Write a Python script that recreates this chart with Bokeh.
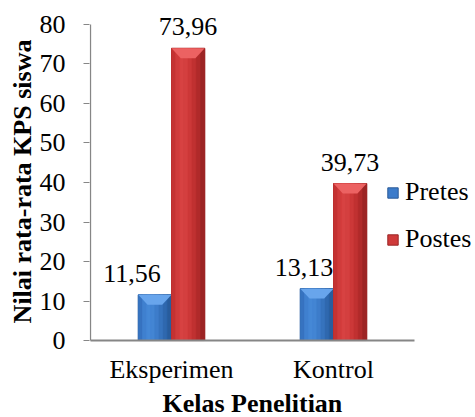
from bokeh.plotting import figure
from bokeh.models import Range1d, FixedTicker, Legend, LegendItem, ColumnDataSource, LabelSet, Title
from bokeh.core.properties import value
from bokeh.embed import file_html
from bokeh.resources import INLINE

# ---- data ----
categories = ["Eksperimen", "Kontrol"]
series_names = ["Pretes", "Postes"]
pretes = [11.56, 13.13]
postes = [73.96, 39.73]
y_ticks = [0, 10, 20, 30, 40, 50, 60, 70, 80]
y_title = "Nilai rata-rata KPS siswa"
x_title = "Kelas Penelitian"

# ---- style ----
FONT = "Liberation Serif, Times New Roman, DejaVu Serif, serif"
FS = "26px"
BAR_W = 0.41          # bar width (one category = 2 x-units)
BEVEL = 2.5           # bevel height in value units
N_STRIP = 8
AXIS_C = "#868686"
base_colors = ["#3d7ccb", "#cf3a3a"]
edge_colors = ["#2b5a98", "#9a2626"]
top_colors = ["#68a5ec", "#ec6262"]
strip_colors = [
    ["#3673c0", "#3f80cf", "#4588d6", "#4385d3", "#3d7cca", "#3673bd", "#2f68ae", "#285c9c"],
    ["#c43232", "#d03b3b", "#d74242", "#d43f3f", "#cc3838", "#c03131", "#b02a2a", "#9c2424"],
]
label_dx = [[-23, -13], [0, 0]]   # screen px nudges of the value labels

W, H = 475, 417
TOP = 14
BOTTOM = 68
LEFT = 89
PX_X = 81.0                 # px per x unit
PX_Y = 317.0 / 80.0         # px per y unit
Y0_PX = 341                 # pixel row of the value 0
p = figure(width=W, height=H, output_backend="svg", toolbar_location=None,
           x_range=Range1d(-1 / PX_X, (W - LEFT - 1) / PX_X),
           y_range=Range1d(-(H - BOTTOM - Y0_PX) / PX_Y, 80 + (24 - TOP) / PX_Y),
           min_border_left=LEFT, min_border_right=0, min_border_top=TOP, min_border_bottom=BOTTOM)
p.outline_line_color = None
p.grid.visible = False
p.background_fill_color = "white"
p.border_fill_color = "white"

series_vals = [pretes, postes]
offsets = [-BAR_W / 2, BAR_W / 2]
legend_items = []
for s, vals in enumerate(series_vals):
    xc = [2 * i + 1 + offsets[s] for i in range(len(categories))]
    src = ColumnDataSource(dict(x=xc, top=vals))
    base = p.vbar(x="x", top="top", width=BAR_W, bottom=0, source=src,
                  fill_color=base_colors[s], line_color=edge_colors[s], line_width=1)
    legend_items.append(LegendItem(label=series_names[s], renderers=[base]))
    sw = BAR_W / N_STRIP
    for j in range(N_STRIP):
        xs = [x - BAR_W / 2 + (j + 0.5) * sw for x in xc]
        p.vbar(x=xs, top=vals, width=sw, bottom=0,
               fill_color=strip_colors[s][j], line_color=strip_colors[s][j], line_width=0.6)
    pxs, pys = [], []
    for x, v in zip(xc, vals):
        l, r = x - BAR_W / 2, x + BAR_W / 2
        inset = 0.28 * BAR_W
        pxs.append([l, r, r - inset, l + inset])
        pys.append([v, v, v - BEVEL, v - BEVEL])
    p.patches(pxs, pys, fill_color=top_colors[s], line_color=None)
    lab = ColumnDataSource(dict(x=xc, y=vals,
                                t=[f"{v:.2f}".replace(".", ",") for v in vals],
                                dx=label_dx[s]))
    p.add_layout(LabelSet(x="x", y="y", text="t", source=lab, x_offset="dx", y_offset=13,
                          text_align="center", text_baseline="alphabetic",
                          text_font=value(FONT), text_font_size=value(FS), text_color="black"))

# axis lines drawn at the data zero lines
p.segment(x0=[0], y0=[0], x1=[2 * len(categories)], y1=[0], line_color=AXIS_C, line_width=2)
p.segment(x0=[0], y0=[y_ticks[0]], x1=[0], y1=[y_ticks[-1]], line_color=AXIS_C, line_width=1.3)

frame_bottom = H - BOTTOM
legend = Legend(items=legend_items, location=(297, frame_bottom - 255), padding=0, margin=0,
                spacing=17, glyph_width=13, glyph_height=13, label_standoff=6,
                label_text_font=FONT, label_text_font_size=FS, label_text_color="black",
                border_line_color=None, background_fill_alpha=0)
p.add_layout(legend, "center")

ya = p.yaxis[0]
ya.ticker = FixedTicker(ticks=y_ticks)
ya.axis_line_color = None
ya.major_tick_line_color = AXIS_C
ya.major_tick_out = 6
ya.major_tick_in = 0
ya.minor_tick_line_color = None
ya.major_label_text_font = FONT
ya.major_label_text_font_size = FS
ya.major_label_text_color = "black"
ya.major_label_standoff = 18
ya.axis_label = y_title
ya.axis_label_text_font = FONT
ya.axis_label_text_font_size = FS
ya.axis_label_text_font_style = "bold"
ya.axis_label_text_color = "black"
ya.axis_label_standoff = 0

xa = p.xaxis[0]
xa.ticker = FixedTicker(ticks=[2 * i + 1 for i in range(len(categories))])
xa.major_label_overrides = {2 * i + 1: c for i, c in enumerate(categories)}
xa.axis_line_color = None
xa.major_tick_line_color = None
xa.major_tick_out = 0
xa.major_tick_in = 0
xa.minor_tick_line_color = None
xa.major_label_text_font = FONT
xa.major_label_text_font_size = FS
xa.major_label_text_color = "black"
xa.major_label_standoff = 6

# x title centred under the axis span (0..4) rather than the wider frame
TITLE_W = 180               # approx. rendered width of the bold title
axis_center_px = 1 + len(categories) * PX_X
p.add_layout(Title(text=x_title, align="left", offset=axis_center_px - TITLE_W / 2,
                   text_font=FONT, text_font_size=FS, text_font_style="bold",
                   text_color="black", standoff=0), "below")

open("out.html", "w").write(file_html(p, INLINE))
